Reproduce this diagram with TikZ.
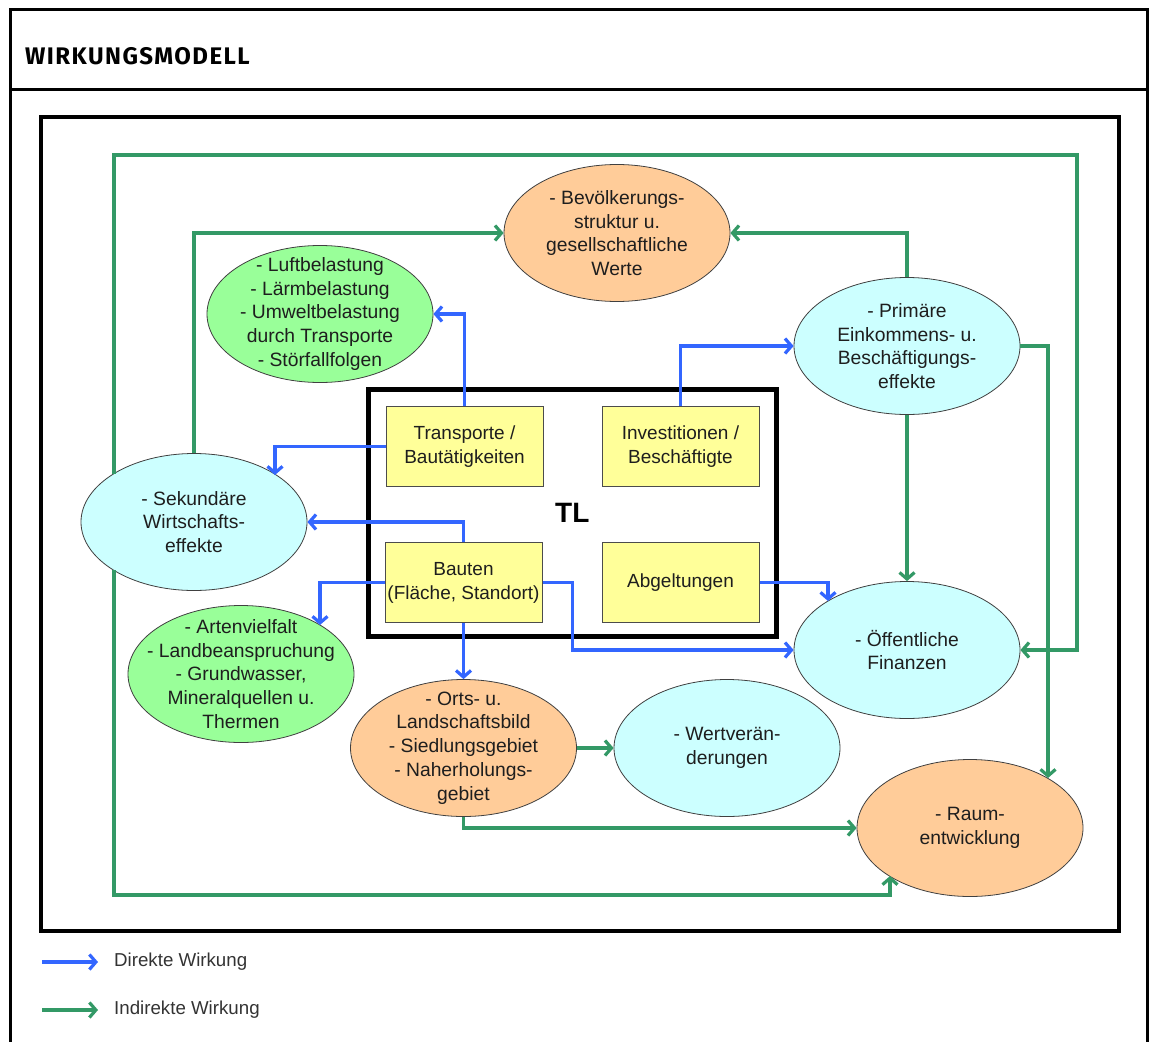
\documentclass[tikz,border=0pt]{standalone}
\usepackage{fontspec}
\setmainfont{Liberation Sans}
\newfontfamily\titlefont[LetterSpace=6]{Fira Sans}
\usetikzlibrary{arrows.meta,calc,shapes.geometric}
\definecolor{dblue}{RGB}{51,102,255}
\definecolor{dgreen}{RGB}{51,153,102}
\definecolor{forange}{RGB}{255,204,153}
\definecolor{fgreen}{RGB}{153,255,153}
\definecolor{fcyan}{RGB}{204,255,255}
\definecolor{fyellow}{RGB}{255,255,153}
\definecolor{txt}{RGB}{30,30,30}
\begin{document}
\begin{tikzpicture}[x=1pt,y=-1pt,
  elltext/.style={align=center, inner sep=0pt, font=\fontsize{19.3}{23.8}\selectfont, text=txt},
  ell/.style={ellipse, draw=black!75, line width=0.8pt, minimum width=226pt, minimum height=137pt,
    inner sep=0pt, label={[elltext]center:#1}},
  ybox/.style={rectangle, draw=black!70, line width=1pt, fill=fyellow, minimum width=157pt,
    minimum height=80pt, inner sep=0pt, align=center, font=\fontsize{19}{24}\selectfont, text=txt},
  tip/.style={-{Straight Barb[length=6.5pt,width=15pt]}},
  direct/.style={draw=dblue, line width=3.2pt, tip},
  indirect/.style={draw=dgreen, line width=3.2pt, tip},
  legtext/.style={anchor=west, inner sep=0pt, font=\fontsize{18.7}{22}\selectfont, text=black!80}
]
\useasboundingbox (0,0) rectangle (1155,1041);
\fill[white] (0,0) rectangle (1155,1041);

% frames
\draw[line width=3pt] (10,1045) -- (10,9.5) -- (1147,9.5) -- (1147,1045);
\draw[line width=3pt] (10,89) -- (1147,89);
\node[anchor=base west, inner sep=0pt, font=\titlefont\bfseries\fontsize{24}{27}\selectfont] (title) at (25,64) {WIRKUNGSMODELL};
\draw[line width=3.5pt] (41,117) rectangle (1119,931);

% TL box
\node[draw, line width=5pt, minimum width=407.5pt, minimum height=246.5pt, inner sep=0pt,
  font=\bfseries\fontsize{28}{30}\selectfont] (tl) at (572.25,512.75) {TL};

% yellow boxes
\node[ybox] (trans) at (464.5,446.7) {Transporte /\\Bautätigkeiten};
\node[ybox] (inv) at (680.5,446.7) {Investitionen /\\Beschäftigte};
\node[ybox] (bau) at (463.5,582.7) {Bauten\\(Fläche, Standort)};
\node[ybox] (abg) at (680.5,582.7) {Abgeltungen};

% ellipses
\node[ell={- Bevölkerungs-\\struktur u.\\gesellschaftliche\\Werte}, fill=forange] (bev) at (617,233) {};
\node[ell={- Luftbelastung\\- Lärmbelastung\\- Umweltbelastung\\durch Transporte\\- Störfallfolgen}, fill=fgreen] (luft) at (320,314) {};
\node[ell={- Primäre\\Einkommens- u.\\Beschäftigungs-\\effekte}, fill=fcyan] (prim) at (907,346) {};
\node[ell={- Sekundäre\\Wirtschafts-\\effekte}, fill=fcyan] (sek) at (194,522) {};
\node[ell={- Artenvielfalt\\- Landbeanspruchung\\- Grundwasser,\\Mineralquellen u.\\Thermen}, fill=fgreen] (art) at (241,674) {};
\node[ell={- Orts- u.\\Landschaftsbild\\- Siedlungsgebiet\\- Naherholungs-\\gebiet}, fill=forange] (orts) at (463.5,748) {};
\node[ell={- Wertverän-\\derungen}, fill=fcyan] (wert) at (727,748) {};
\node[ell={- Öffentliche\\Finanzen}, fill=fcyan] (oeff) at (907,650) {};
\node[ell={- Raum-\\entwicklung}, fill=forange] (raum) at (970,828) {};

% border points
\coordinate (sekT) at ($(sek.center)+(81,-47)$);
\coordinate (artT) at ($(art.center)+(79,-49)$);
\coordinate (oeffT) at ($(oeff.center)+(-79,-49)$);
\coordinate (raumT) at ($(raum.center)+(78,-50)$);
\coordinate (raumB) at ($(raum.center)+(-80,48)$);
\coordinate (sekA) at ($(sek.center)+(-80,-48)$);
\coordinate (sekB) at ($(sek.center)+(-80,48)$);

% direct effects
\draw[direct] (trans.north) |- (luft.east);
\draw[direct] (trans.west) -| (sekT);
\draw[direct] (bau.north) |- (sek.east);
\draw[direct] (bau.west) -| (artT);
\draw[direct] (bau.south) -- (orts.north);
\draw[direct] (bau.east) -- ++(30,0) |- (oeff.west);
\draw[direct] (inv.north) |- (prim.west);
\draw[direct] (abg.east) -| (oeffT);

% indirect effects
\draw[indirect] (sek.north) |- (bev.west);
\draw[indirect] (prim.north) |- (bev.east);
\draw[indirect] (prim.south) -- (oeff.north);
\draw[indirect] (prim.east) -| (raumT);
\draw[indirect] (orts.east) -- (wert.west);
\draw[indirect] (orts.south) |- (raum.west);
\draw[indirect] (sekA) -- ++(0,-319) -- ++(963,0) |- (oeff.east);
\draw[indirect] (sekB) -- ++(0,325) -| (raumB);

% legend
\coordinate (lb1) at (42,962);
\coordinate (lb2) at (98,962);
\coordinate (lg1) at (42,1010);
\coordinate (lg2) at (98,1010);
\draw[direct] (lb1) -- (lb2);
\draw[indirect] (lg1) -- (lg2);
\node[legtext] (ldir) at (114,962) {Direkte Wirkung};
\node[legtext] (lind) at (114,1010) {Indirekte Wirkung};
\end{tikzpicture}
\end{document}
